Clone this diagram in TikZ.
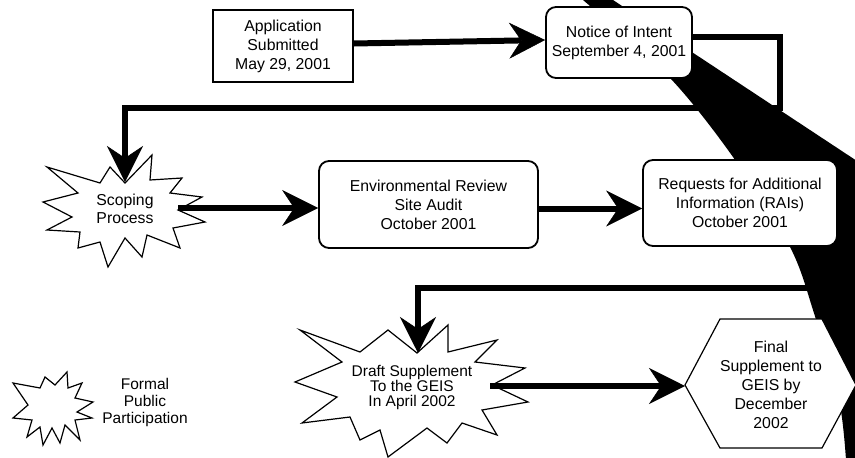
\documentclass[tikz,border=0pt]{standalone}
\usepackage{fontspec}
\setmainfont{Liberation Sans}
\usetikzlibrary{arrows.meta}
\begin{document}
\begin{tikzpicture}[x=1pt,y=-1pt,
  conn/.style={line width=6pt, -{Stealth[length=36pt,width=36pt,inset=12pt,line width=0.5pt]}},
  boxtext/.style={font=\fontsize{15.8}{19}\selectfont, align=center, inner sep=0pt},
  sqbox/.style={boxtext, draw, line width=1.8pt, fill=white},
  rbox/.style={sqbox, rounded corners=10pt},
  burst/.style={draw, line width=1.2pt, fill=white, line join=miter},
  hexa/.style={draw, line width=1.2pt, fill=white},
  band/.style={fill=black},
]
\useasboundingbox (0,0) rectangle (855,458);

% black sweeping band
\fill[band] (583,0) -- (613,0) -- (860,163) -- (860,460) -- plot[smooth] coordinates {(846,460) (839,400) (813,310) (790,247) (733,157) (670,78) (583,0)} -- cycle;

% starbursts
\draw[burst] (47,167) -- (100,183) -- (110,167) -- (125,183) -- (152,155) -- (150,180) -- (182,178) -- (170,193) -- (202,197) -- (178,210) -- (205,222) -- (173,228) -- (180,248) -- (147,235) -- (142,257) -- (125,238) -- (108,267) -- (100,242) -- (78,248) -- (80,232) -- (47,230) -- (72,217) -- (43,202) -- (78,193) -- cycle;
\draw[burst] (300,330) -- (360,352) -- (388,330) -- (417,353) -- (448,325) -- (448,352) -- (497,340) -- (475,362) -- (525,368) -- (492,385) -- (528,402) -- (482,410) -- (497,435) -- (462,423) -- (447,443) -- (427,428) -- (388,457) -- (380,430) -- (360,440) -- (350,417) -- (302,423) -- (337,397) -- (295,382) -- (342,362) -- cycle;
\draw[burst] (13,383) -- (40,388) -- (45,377) -- (55,385) -- (67,372) -- (68,388) -- (82,383) -- (75,398) -- (93,402) -- (77,412) -- (92,418) -- (75,420) -- (80,440) -- (65,425) -- (60,443) -- (52,428) -- (43,445) -- (40,427) -- (27,437) -- (32,420) -- (13,418) -- (28,405) -- cycle;

% hexagon
\draw[hexa] (685,385) -- (720,319) -- (822,319) -- (856,385) -- (822,448) -- (720,448) -- cycle;

% nodes
\node[sqbox, minimum width=140pt, minimum height=72pt] (app) at (283,46) {Application\\Submitted\\May 29, 2001};
\node[rbox, minimum width=146pt, minimum height=71pt] (noi) at (619,42.5) {Notice of Intent\\September 4, 2001};
\node[rbox, minimum width=219pt, minimum height=87pt] (env) at (428.5,204.5) {Environmental Review\\Site Audit\\October 2001};
\node[rbox, minimum width=194pt, minimum height=86pt] (rai) at (740,203) {Requests for Additional\\Information (RAIs)\\October 2001};
\node[boxtext] (final) at (771,385) {Final\\Supplement to\\GEIS by\\December\\2002};
\node[boxtext, font=\fontsize{15.8}{18}\selectfont] (scoping) at (125,209) {Scoping\\Process};
\node[boxtext, font=\fontsize{15.5}{15}\selectfont] (draft) at (412,387) {Draft Supplement\\To the GEIS\\In April 2002};
\node[boxtext, font=\fontsize{15.5}{17}\selectfont] (legend) at (145,402) {Formal\\Public\\Participation};

% connector points
\coordinate (scTop) at (125,182);
\coordinate (scRight) at (178,208);
\coordinate (nTurn) at (780,108);
\coordinate (rTurn) at (835,288);
\coordinate (drTop) at (418,353);
\coordinate (drRight) at (490,386);
\coordinate (finLeft) at (685,386);

% connectors
\draw[conn] ([yshift=2.5pt]app.east) -- ([yshift=2.5pt]noi.west);
\draw[conn] ([yshift=5.5pt]noi.east) -| (nTurn) -| (scTop);
\draw[conn] (scRight) -- (scRight -| env.west);
\draw[conn] ([yshift=-4pt]env.east) -- ([yshift=-4pt]env.east -| rai.west);
\draw[conn] (rTurn) -| (drTop);
\draw[conn] (drRight) -- (finLeft);
\end{tikzpicture}
\end{document}
